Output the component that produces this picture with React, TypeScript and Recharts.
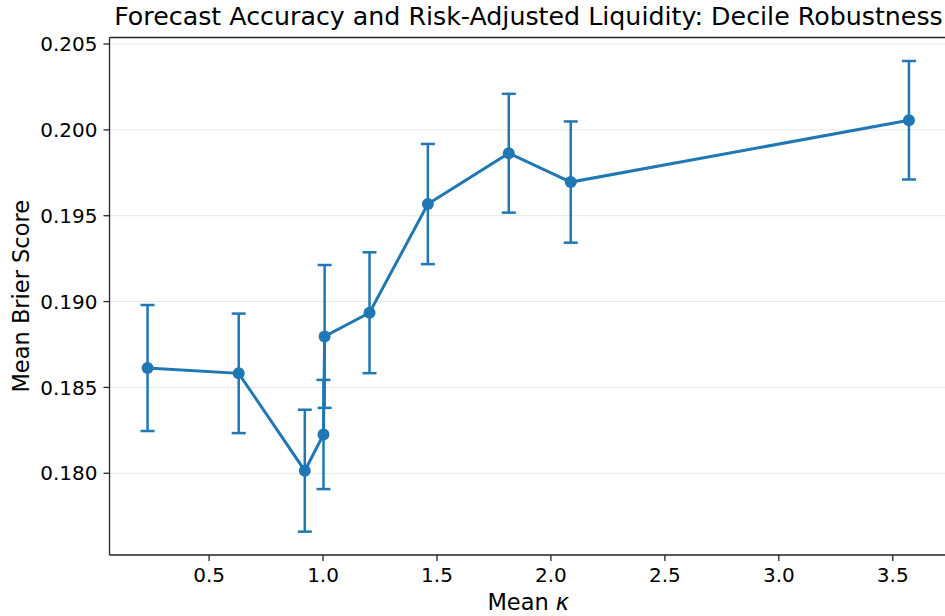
import React from 'react'
import { LineChart, Line, XAxis, YAxis, CartesianGrid, ErrorBar, ReferenceLine } from 'recharts'

// decile means of kappa, mean Brier score and half-width of the error bars
const kappaMeans = [0.230, 0.630, 0.920, 1.002, 1.007, 1.204, 1.460, 1.815, 2.087, 3.571]
const brierMeans = [0.18613, 0.18582, 0.18015, 0.18226, 0.18797, 0.18935, 0.19568, 0.19864, 0.19696, 0.20056]
const brierErr = [0.00367, 0.00348, 0.00355, 0.00318, 0.00416, 0.00352, 0.00350, 0.00346, 0.00353, 0.00345]

const xTicks = [0.5, 1.0, 1.5, 2.0, 2.5, 3.0, 3.5]
const yTicks = [0.18, 0.185, 0.19, 0.195, 0.2, 0.205]

const xDomain: [number, number] = [0.063, 3.738]
const yDomain: [number, number] = [0.17524, 0.20538]

const BLUE = '#1f77b4'
const AXIS = '#262626'
const FONT = '"DejaVu Sans", sans-serif'

const rows = kappaMeans.map((k, i) => ({ kappa: k, brier: brierMeans[i], err: brierErr[i] }))

const XLabel = ({ viewBox }: any) => {
  const cx = viewBox.x + viewBox.width / 2
  return (
    <text x={cx} y={610} textAnchor="middle" fontSize={22.5} fill="#000" fontFamily={FONT}>
      Mean <tspan fontStyle="italic">κ</tspan>
    </text>
  )
}

const YLabel = ({ viewBox }: any) => {
  const cy = viewBox.y + viewBox.height / 2
  return (
    <text
      x={29}
      y={cy}
      transform={`rotate(-90, 29, ${cy})`}
      textAnchor="middle"
      fontSize={22.5}
      fill="#000"
      fontFamily={FONT}
    >
      Mean Brier Score
    </text>
  )
}

export default function App() {
  return (
    <div style={{ position: 'absolute', left: 0, top: 0, width: 945, height: 616, overflow: 'hidden', background: '#fff' }}>
      <div
        style={{
          position: 'absolute',
          left: 110,
          width: 837,
          top: 2,
          textAlign: 'center',
          fontFamily: FONT,
          fontSize: 25.3,
          color: '#000',
          whiteSpace: 'nowrap',
        }}
      >
        Forecast Accuracy and Risk-Adjusted Liquidity: Decile Robustness
      </div>
      <LineChart width={950} height={616} data={rows} margin={{ top: 37.5, right: 3, bottom: 0, left: 0 }}>
        <CartesianGrid vertical={false} stroke="#e6e6e6" strokeWidth={1} />
        <XAxis
          dataKey="kappa"
          type="number"
          domain={xDomain}
          allowDataOverflow
          ticks={xTicks}
          tickFormatter={(v: number) => v.toFixed(1)}
          height={61}
          tickSize={6}
          tickMargin={7}
          stroke={AXIS}
          strokeWidth={1.3}
          tick={{ fill: '#000', fontSize: 20, fontFamily: FONT }}
          label={<XLabel />}
        />
        <YAxis
          type="number"
          domain={yDomain}
          allowDataOverflow
          ticks={yTicks}
          tickFormatter={(v: number) => v.toFixed(3)}
          width={109.5}
          tickSize={6}
          tickMargin={6}
          stroke={AXIS}
          strokeWidth={1.3}
          tick={{ fill: '#000', fontSize: 20, fontFamily: FONT }}
          label={<YLabel />}
        />
        {/* top spine */}
        <ReferenceLine y={yDomain[1]} stroke={AXIS} strokeWidth={1.3} />
        <Line
          dataKey="brier"
          stroke={BLUE}
          strokeWidth={3}
          dot={{ r: 6, fill: BLUE, stroke: BLUE, strokeWidth: 0 }}
          activeDot={false}
          isAnimationActive={false}
        >
          <ErrorBar dataKey="err" direction="y" stroke={BLUE} strokeWidth={2.5} width={7} isAnimationActive={false} />
        </Line>
      </LineChart>
    </div>
  )
}
